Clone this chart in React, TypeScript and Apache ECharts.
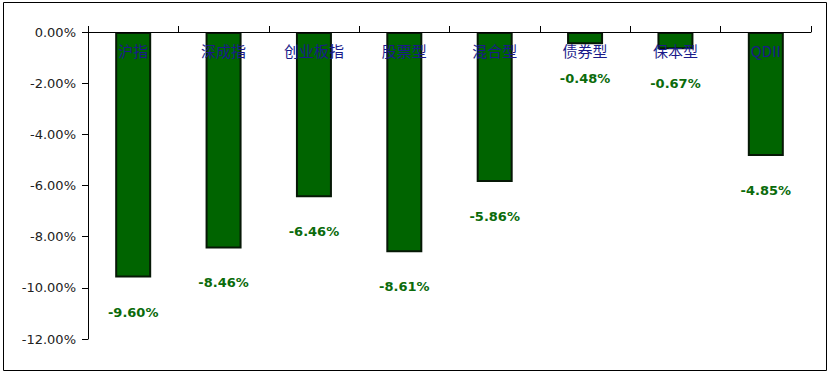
import React, { useEffect, useRef } from "react";
import * as echarts from "echarts";

const categories = ["沪指", "深成指", "创业板指", "股票型", "混合型", "债券型", "保本型", "QDII"];
const values = [-9.6, -8.46, -6.46, -8.61, -5.86, -0.48, -0.67, -4.85];
const yMin = -12;
const yMax = 0;
const yStep = 2;

export default function App() {
  const ref = useRef<HTMLDivElement>(null);
  useEffect(() => {
    document.body.style.margin = "0";
    const chart = echarts.init(ref.current!, null, { renderer: "svg" });
    chart.setOption({
      animation: false,
      backgroundColor: "#ffffff",
      graphic: [
        {
          type: "rect",
          shape: { x: 3.5, y: 2.5, width: 823, height: 368 },
          style: { fill: "none", stroke: "#000", lineWidth: 1 },
          silent: true,
        },
      ],
      grid: { left: 88, top: 32, width: 723, height: 307, containLabel: false },
      xAxis: {
        type: "category",
        position: "top",
        data: categories,
        z: 10,
        axisLine: { show: true, lineStyle: { color: "#000", width: 1 } },
        axisTick: { show: true, inside: false, length: 6, alignWithLabel: false, lineStyle: { color: "#000" } },
        axisLabel: {
          inside: true,
          interval: 0,
          hideOverlap: false,
          margin: 11,
          color: "#1a1a8a",
          fontSize: 15,
          fontFamily: "Noto Sans CJK SC",
          verticalAlign: "top",
        },
        splitLine: { show: false },
      },
      yAxis: {
        type: "value",
        min: yMin,
        max: yMax,
        interval: yStep,
        axisLine: { show: true, lineStyle: { color: "#000", width: 1 } },
        axisTick: { show: true, length: 6, lineStyle: { color: "#000" } },
        axisLabel: {
          margin: 12,
          color: "#222",
          fontSize: 13,
          fontFamily: "DejaVu Sans",
          formatter: (v: number) => v.toFixed(2) + "%",
        },
        splitLine: { show: false },
      },
      series: [
        {
          type: "bar",
          data: values,
          barWidth: 36,
          z: 2,
          itemStyle: { color: "#006400", borderColor: "#061806", borderWidth: 2 },
          label: {
            show: true,
            position: "bottom",
            distance: 28,
            color: "#0b6b0b",
            fontWeight: "bold",
            fontSize: 13,
            fontFamily: "DejaVu Sans",
            formatter: (p: any) => p.value.toFixed(2) + "%",
          },
        },
      ],
    });
    return () => chart.dispose();
  }, []);
  return <div ref={ref} style={{ position: "absolute", left: 0, top: 0, width: 829, height: 374 }} />;
}
